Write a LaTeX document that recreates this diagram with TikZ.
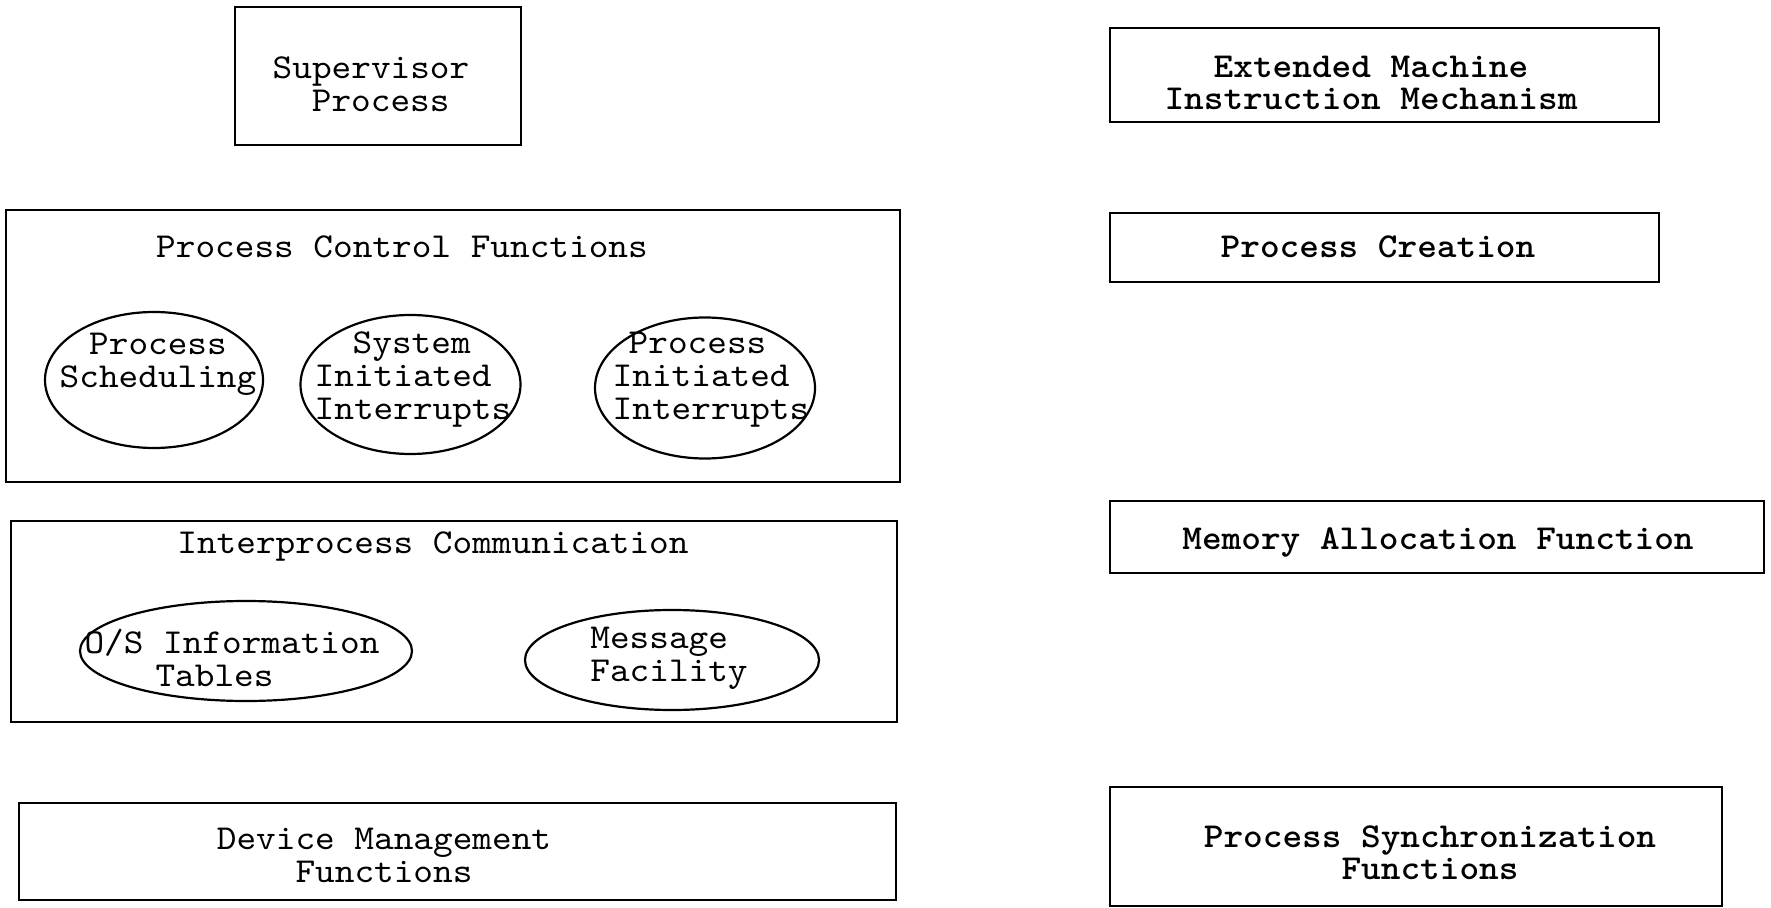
\documentclass[tikz,border=0pt]{standalone}
\usepackage{fontspec}
\newfontfamily\lmwide{lmmono10-regular}[Extension=.otf, FakeStretch=1.07, BoldFont=lmmonolt10-bold, BoldFeatures={FakeStretch=1.07}]
\usetikzlibrary{shapes.geometric}
\tikzset{
  box/.style={draw, line width=1.3pt, minimum width=#1, inner sep=0pt},
  oval/.style={draw, ellipse, line width=1.1pt, inner sep=0pt},
  txt/.style={font=\fontsize{17.5pt}{16.5pt}\lmwide, align=center, inner sep=0pt},
  rtxt/.style={font=\fontsize{17.5pt}{16pt}\lmwide\bfseries, align=center, inner sep=0pt},
}
\begin{document}
\begin{tikzpicture}[x=0.5pt, y=-0.5pt]
\useasboundingbox (0,0) rectangle (1771,908);
% left column boxes
\node[box=143pt, minimum height=69pt] (sup) at (378,76) {};
\node[box=447pt, minimum height=136pt] (pcf) at (453,346) {};
\node[box=443pt, minimum height=100.5pt] (ipc) at (454,621.5) {};
\node[box=438.5pt, minimum height=48.5pt] (dev) at (457.5,851.5) {};
% right column boxes
\node[box=274.5pt, minimum height=47pt] (emi) at (1384.5,75) {};
\node[box=274.5pt, minimum height=34.5pt] (pcr) at (1384.5,247.5) {};
\node[box=327pt, minimum height=36pt] (mem) at (1437,537) {};
\node[box=306pt, minimum height=59.5pt] (psf) at (1416,846.5) {};
% ellipses
\node[oval, minimum width=109pt, minimum height=68pt] (ps) at (154,380) {};
\node[oval, minimum width=110pt, minimum height=69.5pt] (sii) at (410.5,384.5) {};
\node[oval, minimum width=110pt, minimum height=70.5pt] (pii) at (705,388) {};
\node[oval, minimum width=166pt, minimum height=50pt] (os) at (246,651) {};
\node[oval, minimum width=147pt, minimum height=50pt] (mf) at (672,660) {};
% texts left
\node[txt, align=left] (tsup) at (371,84) {Supervisor\\\hspace{19.6pt}Process};
\node[txt] (tpcf) at (402,247) {Process Control Functions};
\node[txt] (tps) at (158,364) {Process\\Scheduling};
\node[txt, align=left] (tsii) at (413,380) {\hspace{19pt}System\\Initiated\\Interrupts};
\node[txt, align=left] (tpii) at (711,380) {\hspace{8pt}Process\\Initiated\\Interrupts};
\node[txt] (tipc) at (433,546) {Interprocess Communication};
\node[txt, align=left] (tos) at (232,658) {O/S Information\\\hspace{35.5pt}Tables};
\node[txt, align=left] (tmf) at (669,658) {Message\\Facility};
\node[txt] (tdev) at (384,855) {Device Management\\Functions};
% texts right
\node[rtxt] (temi) at (1371,83) {Extended Machine\\Instruction Mechanism};
\node[rtxt] (tpcr) at (1378,247) {Process Creation};
\node[rtxt] (tmem) at (1438,542) {Memory Allocation Function};
\node[rtxt] (tpsf) at (1430,853) {Process Synchronization\\Functions};
\end{tikzpicture}
\end{document}
